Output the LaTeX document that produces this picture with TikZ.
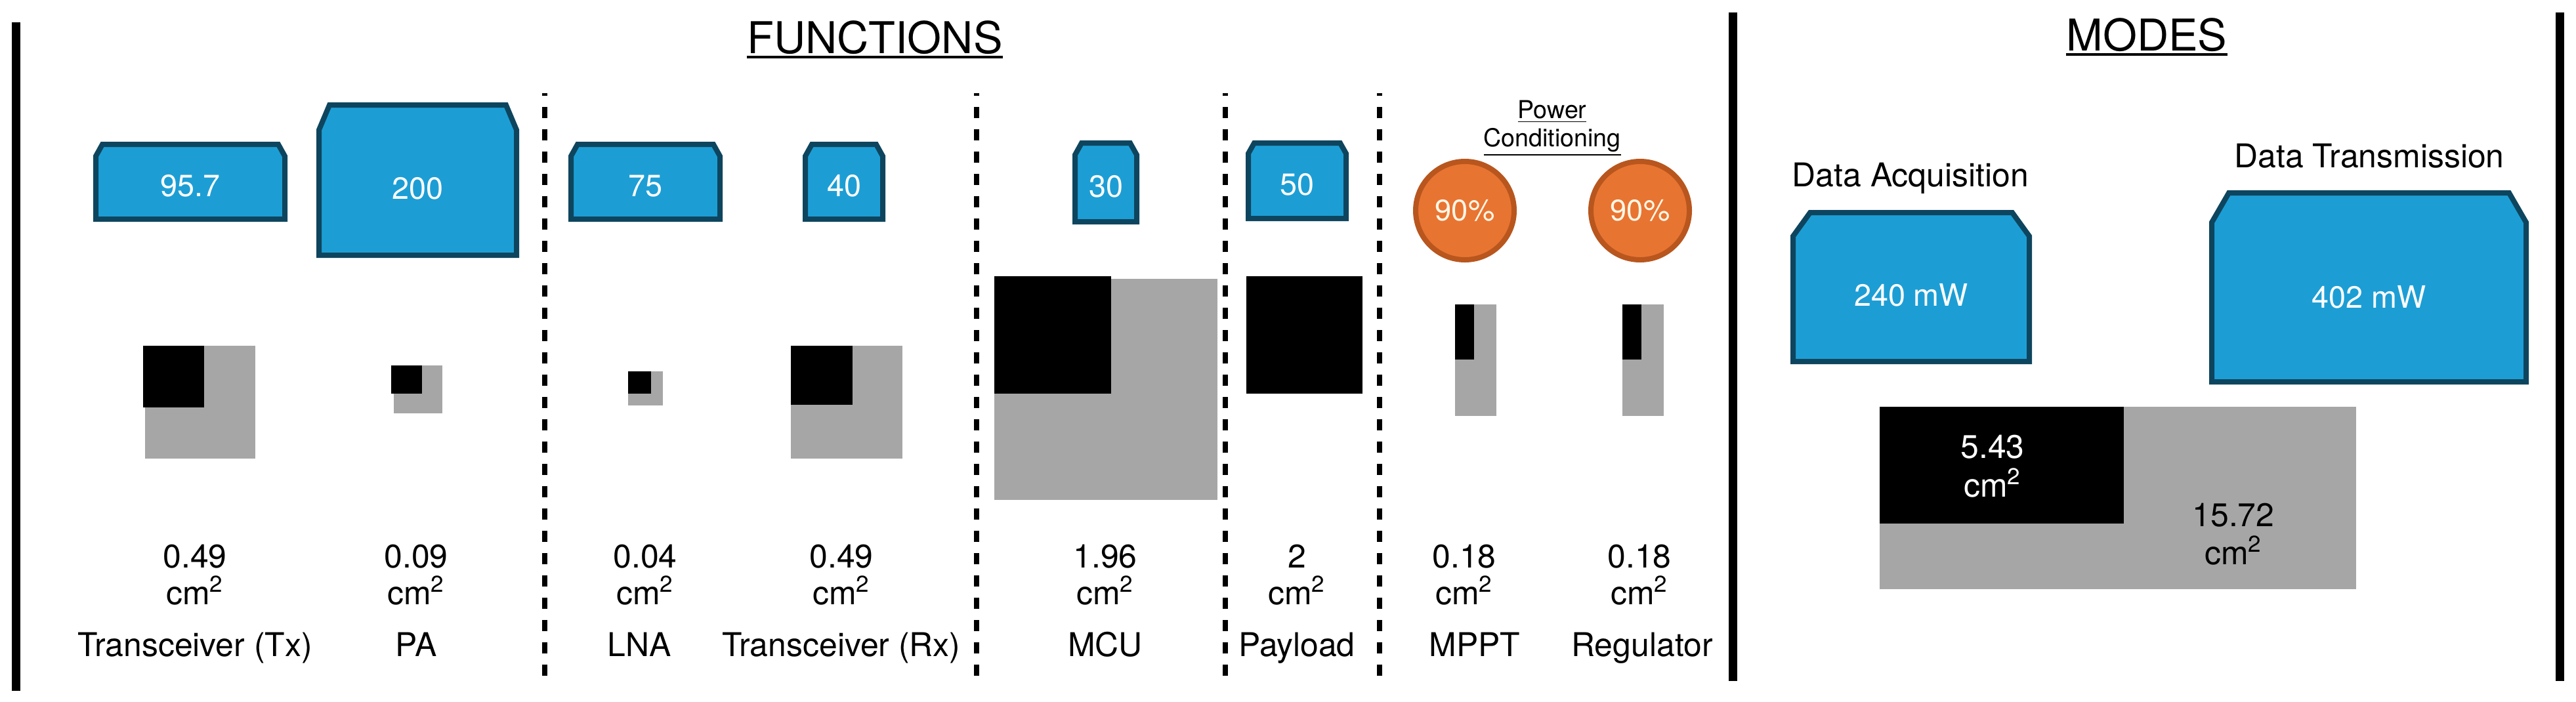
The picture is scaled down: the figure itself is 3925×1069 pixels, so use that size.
\documentclass[tikz,border=0pt]{standalone}
\usepackage{fontspec}
\setmainfont{TeX Gyre Heros}
\definecolor{pwrblue}{RGB}{28,158,213}
\definecolor{pwrrim}{RGB}{14,69,94}
\definecolor{effcol}{RGB}{232,116,50}
\definecolor{effrim}{RGB}{184,86,30}
\definecolor{effink}{RGB}{255,247,230}
\definecolor{areagrey}{RGB}{166,166,166}
\begin{document}
\begin{tikzpicture}[x=0.1mm,y=-0.1mm,line join=round,
  pwrbox/.style={fill=pwrblue,draw=pwrrim,line width=0.8mm,line join=miter},
  pwrtxt/.style={text=white,font=\fontsize{13.3}{16}\selectfont,inner sep=0pt},
  eff/.style={circle,fill=effcol,draw=effrim,line width=0.8mm,minimum size=15mm,inner sep=0pt,text=effink,font=\fontsize{12.9}{15}\selectfont},
  lbl/.style={font=\fontsize{14.2}{17}\selectfont,anchor=base,inner sep=0pt},
  ttl/.style={font=\fontsize{19}{23}\selectfont,anchor=base,inner sep=0pt},
  bar/.style={line width=1.3mm},
  sep/.style={line width=0.8mm,dash pattern=on 1.7mm off 1.7mm,dash phase=1.3mm}]
\useasboundingbox (0,0) rectangle (3925,1069);
\draw[bar] (24,34) -- (24,1053);
\draw[bar] (2640,19) -- (2640,1038) (3900,19) -- (3900,1038);
\foreach \x in {830,1488,1867,2102} \draw[sep] (\x,142) -- (\x,1036);
\node[ttl] (fun) at (1333,81) {FUNCTIONS};
\node[ttl] (mod) at (3271,77) {MODES};
\foreach \t in {fun,mod} \draw[line width=0.4mm] ([yshift=-0.6mm]\t.base west) -- ([yshift=-0.6mm]\t.base east);
\foreach \xa/\ya/\xb/\yb/\cx/\cy/\val/\nm in {142/216/438/338/14/22/95.7/ptx, 482/156/791/393/20/42/200/ppa, 866/216/1101/338/14/22/75/plna, 1223/216/1349/338/14/22/40/prx, 1634/214/1736/342/14/22/30/pmcu, 1898/214/2055/337/13/20/50/ppay, 2728/320/3096/555/30/40/240 mW/pacq, 3366/290/3853/586/30/49/402 mW/ptrx}{
  \draw[pwrbox] (\xa+4,\yb-4) -- (\xa+4,\ya+\cy) -- (\xa+\cx,\ya+4) -- (\xb-\cx,\ya+4) -- (\xb-4,\ya+\cy) -- (\xb-4,\yb-4) -- cycle;
  \node[pwrtxt] (\nm) at ({(\xa+\xb)/2},{(\ya+\yb)/2+0.3*\cy}) {\val};
}
\node[lbl,font=\fontsize{10.7}{13}\selectfont] (pwr) at (2365,180) {\underline{Power}};
\node[lbl,font=\fontsize{10.7}{13}\selectfont] (cond) at (2365,223) {\underline{Conditioning}};
\node[eff] (mpptc) at (2232,321) {90\%};
\node[eff] (regc) at (2499,321) {90\%};
\foreach \xa/\ya/\xb/\yb in {221/527/389/699, 600/557/674/630, 957/566/1010/618, 1205/527/1375/699, 1515/425/1855/762, 2217/464/2280/634, 2472/464/2535/634, 2864/620/3590/898}
  \fill[areagrey] (\xa,\ya) rectangle (\xb,\yb);
\foreach \xa/\ya/\xb/\yb in {218/527/311/621, 596/557/643/600, 957/566/992/600, 1205/527/1299/617, 1515/421/1693/600, 1899/421/2076/600, 2217/464/2246/548, 2472/464/2501/548, 2864/620/3236/798}
  \fill[black] (\xa,\ya) rectangle (\xb,\yb);
\foreach \x/\val/\nm/\xl/\lab in {297/0.49/tx/297/Transceiver (Tx), 634/0.09/pa/634/PA, 983/0.04/lna/974/LNA, 1282/0.49/rx/1282/Transceiver (Rx), 1684/1.96/mcu/1684/MCU, 1976/2/pay/1976/Payload, 2231/0.18/mppt/2247/MPPT, 2498/0.18/reg/2502/Regulator}{
  \node[lbl] (a\nm) at (\x,865) {\val};
  \node[lbl] (u\nm) at (\x,921) {cm\textsuperscript{2}};
  \node[lbl] (l\nm) at (\xl,1000) {\lab};
}
\node[lbl] (acq) at (2911,284) {Data Acquisition};
\node[lbl] (trx) at (3610,255) {Data Transmission};
\node[lbl,text=white] (aused) at (3036,698) {5.43};
\node[lbl,text=white] (uused) at (3036,757) {cm\textsuperscript{2}};
\node[lbl] (aspare) at (3403,802) {15.72};
\node[lbl] (uspare) at (3403,860) {cm\textsuperscript{2}};
\end{tikzpicture}
\end{document}
